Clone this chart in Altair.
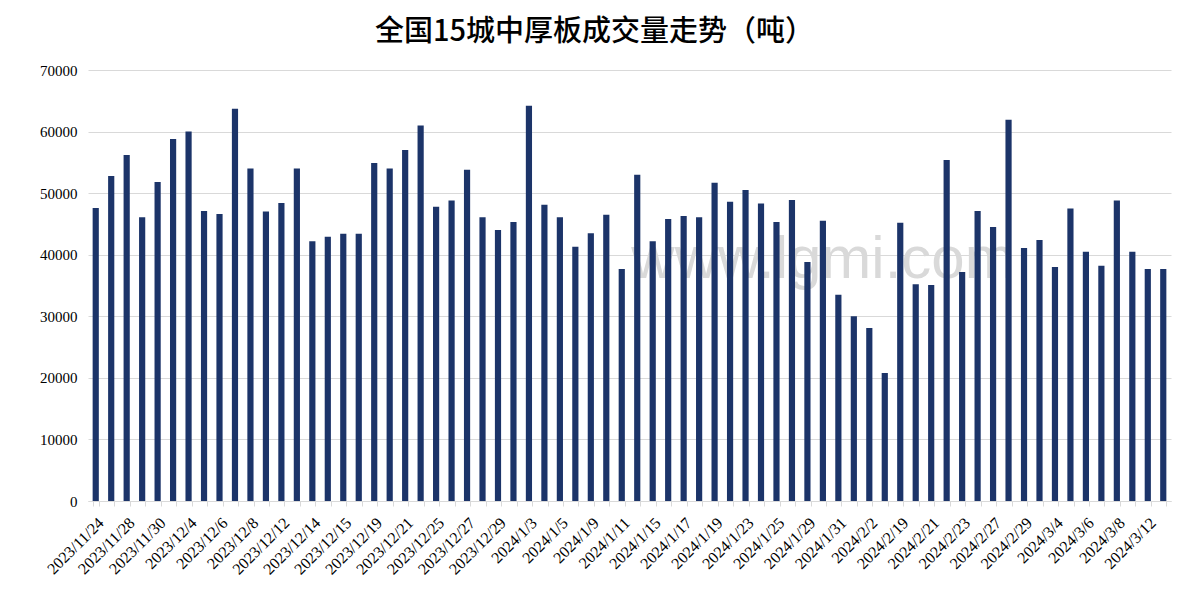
import json
import altair as alt
import pandas as pd

title_text = "全国15城中厚板成交量走势（吨）"

# visible category labels (every other bar)
labels = [
    "2023/11/24", "2023/11/28", "2023/11/30", "2023/12/4", "2023/12/6",
    "2023/12/8", "2023/12/12", "2023/12/14", "2023/12/15", "2023/12/19",
    "2023/12/21", "2023/12/25", "2023/12/27", "2023/12/29", "2024/1/3",
    "2024/1/5", "2024/1/9", "2024/1/11", "2024/1/15", "2024/1/17",
    "2024/1/19", "2024/1/23", "2024/1/25", "2024/1/29", "2024/1/31",
    "2024/2/2", "2024/2/19", "2024/2/21", "2024/2/23", "2024/2/27",
    "2024/2/29", "2024/3/4", "2024/3/6", "2024/3/8", "2024/3/12",
]

values = [
    47600, 52800, 56200, 46100, 51800, 58800, 60000, 47100, 46600, 63700,
    54000, 47000, 48400, 54000, 42200, 42900, 43400, 43400, 54900, 54000,
    57000, 61000, 47800, 48800, 53800, 46100, 44000, 45300, 64200, 48100,
    46100, 41300, 43500, 46500, 37700, 53000, 42200, 45800, 46300, 46100,
    51700, 48600, 50500, 48300, 45300, 48900, 38800, 45500, 33500, 30000,
    28100, 20800, 45200, 35200, 35100, 55400, 37200, 47100, 44500, 61900,
    41100, 42400, 38000, 47500, 40500, 38200, 48800, 40500, 37700, 37700,
]

y_ticks = [0, 10000, 20000, 30000, 40000, 50000, 60000, 70000]
watermark = ["www.lgmi.com"]

df = pd.DataFrame({"idx": list(range(len(values))), "value": values})

W, H = 1083, 431
label_expr = "datum.value % 2 == 0 ? " + json.dumps(labels, ensure_ascii=False) + "[datum.value / 2] : ''"

wm = alt.Chart(pd.DataFrame({"t": watermark})).mark_text(
    font="Liberation Sans", fontSize=60, color="#d9d9d9", align="center", baseline="middle"
).encode(text="t:N", x=alt.value(735), y=alt.value(190))

bars = alt.Chart(df).mark_bar(color="#1c3469").encode(
    x=alt.X(
        "idx:O",
        scale=alt.Scale(paddingInner=0.6, paddingOuter=0.3),
        axis=alt.Axis(
            title=None, labelExpr=label_expr, labelAngle=-45, labelAlign="right",
            labelBaseline="middle", labelOverlap=False, tickBand="extent",
            tickColor="#d9d9d9", domainColor="#d9d9d9", tickSize=5,
            labelFont="Liberation Serif", labelFontSize=16, labelColor="#000000",
            labelPadding=14, labelOffset=5, grid=False,
        ),
    ),
    y=alt.Y(
        "value:Q",
        scale=alt.Scale(domain=[0, 70000]),
        axis=alt.Axis(
            title=None, values=y_ticks, format="d", grid=True, gridColor="#d9d9d9",
            domain=False, ticks=False, labelPadding=11, labelFont="Liberation Serif",
            labelFontSize=15, labelColor="#000000",
        ),
    ),
)

chart = alt.layer(wm, bars).properties(
    width=W, height=H,
    title=alt.TitleParams(
        text=title_text, font="Noto Sans CJK SC", fontSize=29, fontWeight=500,
        color="#000000", anchor="middle", dx=-35, offset=16,
    ),
    autosize=alt.AutoSizeParams(type="none"),
    padding={"left": 80, "top": 62, "right": 12, "bottom": 100},
).configure(background="white").configure_view(stroke=None, strokeWidth=0)

chart.save("out.html", embed_options={"renderer": "svg", "actions": False})
